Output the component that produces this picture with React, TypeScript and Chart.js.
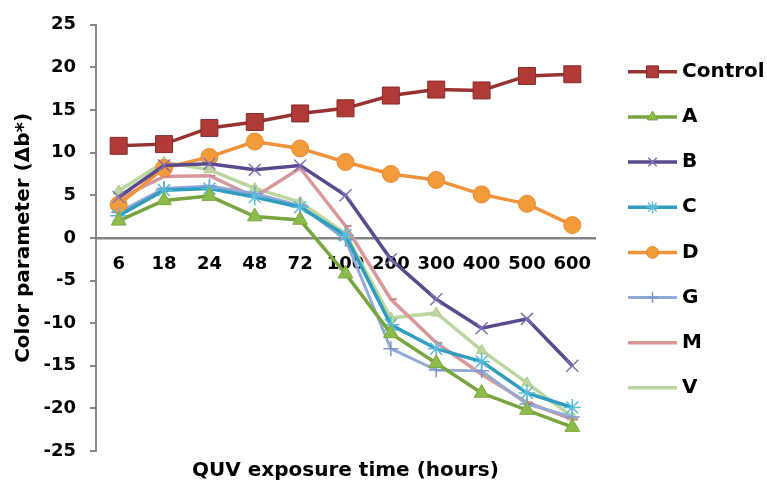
import React, { useEffect, useRef } from 'react';
import { Chart, registerables } from 'chart.js';
import { drawPoint } from 'chart.js/helpers';

Chart.register(...registerables);

// Exposure times (hours) on the category axis
const hours = ['6', '18', '24', '48', '72', '100', '200', '300', '400', '500', '600'];

// Δb* colour change per treatment
const control = [10.8, 11.0, 12.9, 13.6, 14.6, 15.2, 16.7, 17.4, 17.3, 19.0, 19.2];
const seriesA = [2.0, 4.4, 4.9, 2.5, 2.1, -4.2, -11.2, -14.7, -18.2, -20.2, -22.2];
const seriesB = [4.8, 8.5, 8.7, 8.0, 8.5, 5.0, -2.5, -7.2, -10.6, -9.5, -15.0];
const seriesC = [2.6, 5.6, 5.8, 4.8, 3.6, 0.3, -10.2, -13.0, -14.5, -18.2, -19.9];
const seriesD = [3.9, 8.2, 9.5, 11.3, 10.5, 8.9, 7.5, 6.8, 5.1, 4.0, 1.5];
const seriesG = [3.0, 5.8, 6.1, 5.2, 3.8, -0.2, -13.0, -15.5, -15.6, -19.5, -21.0];
const seriesM = [4.6, 7.2, 7.3, 4.8, 8.2, 1.4, -7.2, -12.3, -16.0, -19.3, -21.3];
const seriesV = [5.5, 8.9, 8.0, 5.8, 4.2, 0.5, -9.4, -8.8, -13.2, -17.0, -21.0];

// Value axis range
const yMin = -25;
const yMax = 25;
const yStep = 5;

const xTitle = 'QUV exposure time (hours)';
const yTitle = 'Color parameter (\u0394b*)';

const FONT = '"DejaVu Sans", Verdana, sans-serif';

type SeriesStyle = {
  label: string;
  data: number[];
  line: string;
  fill: string;
  edge: string;
  style: string;
  radius: number;
  edgeWidth: number;
  lineWidth: number;
  legendMarker: boolean;
};

const series: SeriesStyle[] = [
  { label: 'Control', data: control, line: '#973432', fill: '#B03A36', edge: '#862C2A', style: 'rect', radius: 12, edgeWidth: 1, lineWidth: 3.5, legendMarker: true },
  { label: 'A', data: seriesA, line: '#78A540', fill: '#8DBB4A', edge: '#7BA93F', style: 'triangle', radius: 8.5, edgeWidth: 1, lineWidth: 3.5, legendMarker: true },
  { label: 'B', data: seriesB, line: '#5A4A8C', fill: '#8270B5', edge: '#8270B5', style: 'crossRot', radius: 8.5, edgeWidth: 1.5, lineWidth: 3.5, legendMarker: true },
  { label: 'C', data: seriesC, line: '#2F9CC0', fill: '#5BBAD8', edge: '#5BBAD8', style: 'star', radius: 8.5, edgeWidth: 1.5, lineWidth: 3.5, legendMarker: true },
  { label: 'D', data: seriesD, line: '#F0923A', fill: '#F39A3B', edge: '#E88A30', style: 'circle', radius: 8.5, edgeWidth: 1, lineWidth: 3.5, legendMarker: true },
  { label: 'G', data: seriesG, line: '#93A9D6', fill: '#7E95C9', edge: '#7E95C9', style: 'cross', radius: 7.5, edgeWidth: 1.5, lineWidth: 3, legendMarker: true },
  { label: 'M', data: seriesM, line: '#D8989B', fill: '#D8989B', edge: '#C98689', style: 'dash', radius: 6, edgeWidth: 2, lineWidth: 3.5, legendMarker: false },
  { label: 'V', data: seriesV, line: '#BDD69F', fill: '#BDD69F', edge: '#B0CC8E', style: 'triangle', radius: 6, edgeWidth: 1, lineWidth: 3.5, legendMarker: false },
];

// Axis titles and the right-hand legend with line + marker samples
const decorations = {
  id: 'decorations',
  afterDraw(chart: any) {
    const { ctx, chartArea } = chart;
    ctx.save();
    ctx.fillStyle = '#000';
    ctx.font = `bold 20px ${FONT}`;
    ctx.textAlign = 'center';
    ctx.textBaseline = 'middle';
    ctx.fillText(xTitle, (chartArea.left + chartArea.right) / 2, chartArea.bottom + 20);

    ctx.save();
    ctx.translate(24, (chartArea.top + chartArea.bottom) / 2);
    ctx.rotate(-Math.PI / 2);
    ctx.fillText(yTitle, 0, 0);
    ctx.restore();

    const x0 = chartArea.right + 33;
    const x1 = x0 + 49;
    const top = chartArea.top + 47;
    const gap = 45.15;
    ctx.font = `bold 20px ${FONT}`;
    ctx.textAlign = 'left';
    series.forEach((s, i) => {
      const y = top + i * gap;
      ctx.strokeStyle = s.line;
      ctx.lineWidth = s.lineWidth;
      ctx.beginPath();
      ctx.moveTo(x0, y);
      ctx.lineTo(x1, y);
      ctx.stroke();
      if (s.legendMarker) {
        ctx.fillStyle = s.fill;
        ctx.strokeStyle = s.edge;
        ctx.lineWidth = s.edgeWidth;
        drawPoint(ctx, { pointStyle: s.style as any, radius: s.radius * 0.7, rotation: 0, borderWidth: s.edgeWidth }, (x0 + x1) / 2, y);
      }
      ctx.fillStyle = '#000';
      ctx.fillText(s.label, x1 + 5, y);
    });
    ctx.restore();
  },
};

const whiteBackground = {
  id: 'whiteBackground',
  beforeDraw(chart: any) {
    const { ctx, width, height } = chart;
    ctx.save();
    ctx.fillStyle = '#fff';
    ctx.fillRect(0, 0, width, height);
    ctx.restore();
  },
};

export default function App() {
  const canvasRef = useRef<HTMLCanvasElement | null>(null);

  useEffect(() => {
    if (!canvasRef.current) return;
    const chart = new Chart(canvasRef.current, {
      type: 'line',
      data: {
        labels: hours,
        datasets: series.map((s) => ({
          label: s.label,
          data: s.data,
          borderColor: s.line,
          backgroundColor: s.fill,
          borderWidth: s.lineWidth,
          pointStyle: s.style as any,
          pointRadius: s.radius,
          pointBackgroundColor: s.fill,
          pointBorderColor: s.edge,
          pointBorderWidth: s.edgeWidth,
          tension: 0,
          fill: false,
        })),
      },
      options: {
        animation: false,
        responsive: false,
        devicePixelRatio: 1,
        layout: { padding: { left: 0, top: 21, right: 172, bottom: 32 } },
        plugins: {
          legend: { display: false },
          tooltip: { enabled: false },
          title: { display: false },
        },
        scales: {
          x: {
            type: 'category',
            position: { y: 0 } as any,
            offset: true,
            grid: { display: false },
            border: { display: true, color: '#858585', width: 2.5 },
            ticks: {
              color: '#000',
              font: { family: FONT, size: 18, weight: 'bold' },
              padding: 8,
              maxRotation: 0,
              autoSkip: false,
            },
          },
          y: {
            type: 'linear',
            position: 'left',
            min: yMin,
            max: yMax,
            afterFit: (scale: any) => {
              scale.width = 96;
            },
            grid: {
              display: true,
              drawOnChartArea: false,
              drawTicks: true,
              tickLength: 6,
              color: '#858585',
              lineWidth: 2,
            },
            border: { display: true, color: '#858585', width: 2 },
            ticks: {
              stepSize: yStep,
              color: '#000',
              font: { family: FONT, size: 18, weight: 'bold' },
              padding: 14,
            },
          },
        },
      },
      plugins: [whiteBackground, decorations],
    });
    return () => chart.destroy();
  }, []);

  return (
    <div style={{ position: 'absolute', left: 0, top: 0, width: 767, height: 483 }}>
      <canvas ref={canvasRef} width={767} height={483} style={{ display: 'block' }} />
    </div>
  );
}
